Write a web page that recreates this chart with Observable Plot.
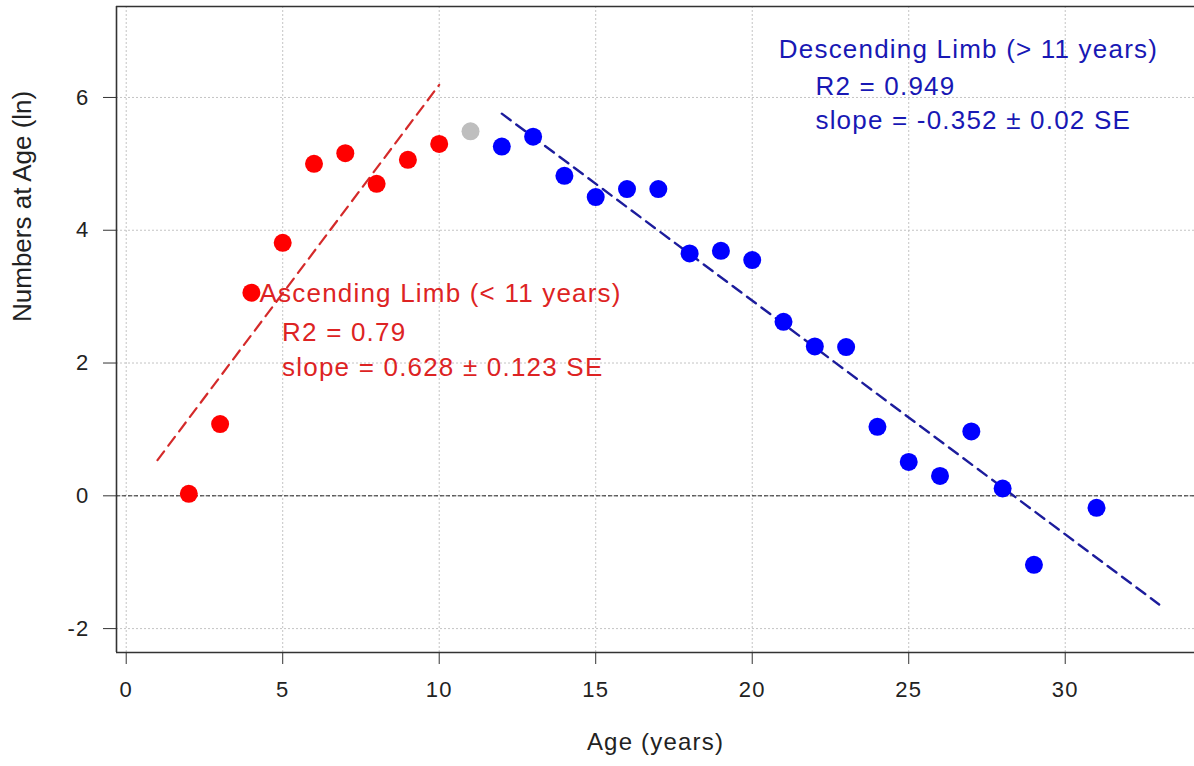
<!DOCTYPE html>
<html>
<head>
<meta charset="utf-8">
<script src="https://cdn.jsdelivr.net/npm/d3@7"></script>
<script src="https://cdn.jsdelivr.net/npm/@observablehq/plot@0.6"></script>
<style>
  html, body { margin: 0; padding: 0; background: #fff; }
  #chart svg text { letter-spacing: 1.2px; }
</style>
</head>
<body>
<div id="chart"></div>
<script>
// ---- data ----
const ages = [2, 3, 4, 5, 6, 7, 8, 9, 10, 11, 12, 13, 14, 15, 16, 17, 18, 19, 20, 21, 22, 23, 24, 25, 26, 27, 28, 29, 31];
const lnNumbers = [0.03, 1.08, 3.06, 3.81, 5.00, 5.16, 4.70, 5.06, 5.30, 5.49, 5.26, 5.41, 4.82, 4.50, 4.62, 4.62, 3.65, 3.69, 3.55, 2.62, 2.25, 2.24, 1.04, 0.51, 0.30, 0.97, 0.11, -1.04, -0.18];
const peakAge = 11;

// regression fits (slope, intercept, age range)
const ascFit = {slope: 0.628, intercept: -0.09, from: 1, to: 10};
const descFit = {slope: -0.352, intercept: 9.98, from: 12, to: 33};

const xTicks = [0, 5, 10, 15, 20, 25, 30];
const yTicks = [-2, 0, 2, 4, 6];

const annotationText = [
  "Ascending Limb (< 11 years)",
  "R2 = 0.79",
  "slope = 0.628 \u00b1 0.123 SE",
  "Descending Limb (> 11 years)",
  "R2 = 0.949",
  "slope = -0.352 \u00b1 0.02 SE"
];
const annotationAge = [4.26, 4.98, 4.98, 20.85, 22.02, 22.02];
const annotationValue = [3.05, 2.455, 1.932, 6.727, 6.16, 5.652];
const annotationGroup = ["asc", "asc", "asc", "desc", "desc", "desc"];

const xLabel = "Age (years)";
const yLabel = "Numbers at Age (ln)";

// ---- derived tables ----
const points = ages.map((a, i) => ({
  age: a,
  value: lnNumbers[i],
  group: a < peakAge ? "asc" : a === peakAge ? "peak" : "desc"
}));
const fitLine = f => [f.from, f.to].map(a => ({age: a, value: f.intercept + f.slope * a}));
const annotations = annotationText.map((t, i) => ({
  text: t, age: annotationAge[i], value: annotationValue[i], group: annotationGroup[i]
}));

const xDomain = [-0.31, 34.13];
const yDomain = [-2.36, 7.37];

const textColour = {asc: "#dd2323", desc: "#1818b4"};

const chart = Plot.plot({
  width: 1194,
  height: 766,
  marginLeft: 116,
  marginRight: 0,
  marginTop: 6,
  marginBottom: 114,
  style: {fontFamily: "'Liberation Sans', Arial, sans-serif", fontSize: "22px", color: "#222", background: "#fff"},
  x: {domain: xDomain},
  y: {domain: yDomain},
  color: {domain: ["asc", "peak", "desc"], range: ["#ff0000", "#bebebe", "#0000ff"]},
  marks: [
    Plot.gridX(xTicks, {stroke: "#c4c4c4", strokeOpacity: 1, strokeDasharray: "2,2"}),
    Plot.gridY(yTicks, {stroke: "#c4c4c4", strokeOpacity: 1, strokeDasharray: "2,2"}),
    Plot.ruleY([0], {stroke: "#222", strokeWidth: 1, strokeDasharray: "4,2"}),
    Plot.line(fitLine(ascFit), {x: "age", y: "value", stroke: "#d42a2a", strokeWidth: 2.2, strokeDasharray: "11,7"}),
    Plot.line(fitLine(descFit), {x: "age", y: "value", stroke: "#1c1c9c", strokeWidth: 2.4, strokeDasharray: "11,7"}),
    Plot.dot(points, {x: "age", y: "value", r: 9, fill: "group", stroke: "none"}),
    Plot.ruleX([xDomain[0]], {stroke: "#333", strokeWidth: 1.6}),
    Plot.ruleY(yDomain, {stroke: "#333", strokeWidth: 1.6}),
    Plot.axisX(xTicks, {tickSize: 12, tickPadding: 17, fontSize: 22, label: null, tickFormat: d => String(d), stroke: "#333"}),
    Plot.axisY(yTicks, {tickSize: 13, tickPadding: 14, fontSize: 22, label: null, tickFormat: d => String(d), stroke: "#333"}),
    Plot.text(annotations, {
      x: "age", y: "value", text: "text",
      fill: d => textColour[d.group],
      fontSize: 26, textAnchor: "start", lineAnchor: "middle"
    }),
    Plot.text([xLabel], {text: d => d, frameAnchor: "bottom", dy: 90, fontSize: 24, lineAnchor: "middle", fill: "#222"}),
    Plot.text([yLabel], {text: d => d, frameAnchor: "left", rotate: -90, dx: -94, dy: -7.5, fontSize: 26, lineAnchor: "middle", fill: "#222"})
  ]
});

document.getElementById("chart").appendChild(chart);
d3.select(chart).selectAll("text")
  .filter(function () { const t = this.getAttribute("transform") || ""; return t.includes("rotate"); })
  .style("letter-spacing", "0px");
</script>
</body>
</html>
